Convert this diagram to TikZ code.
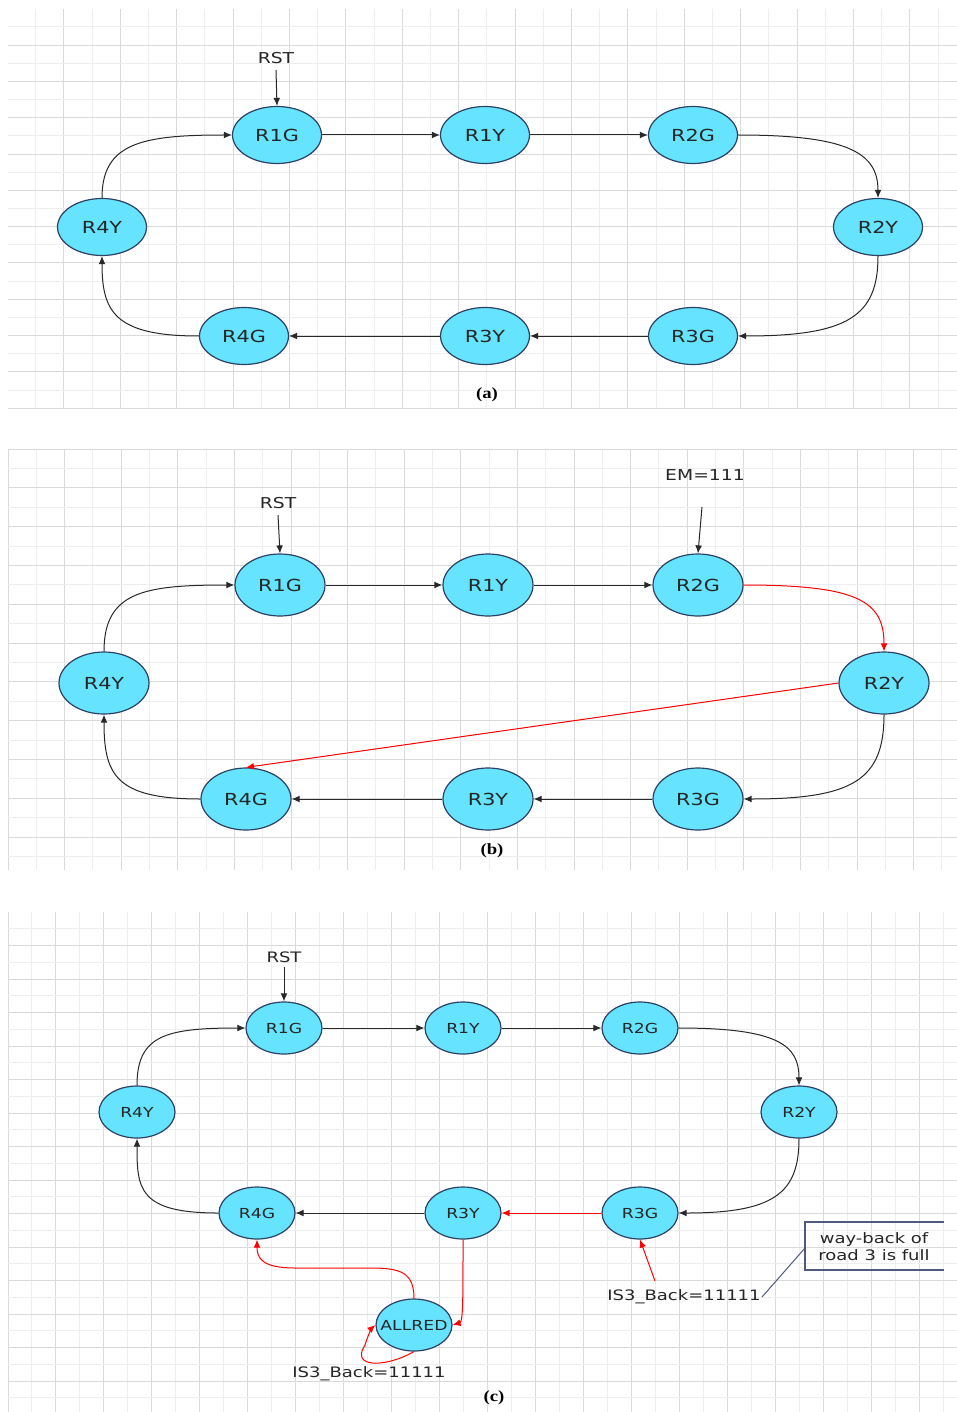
\documentclass[tikz,border=0pt]{standalone}
\usepackage{fontspec}
\newfontfamily\vfont{DejaVu Sans}[FakeStretch=1.25]
\newfontfamily\capfont{Liberation Serif}[FakeStretch=1.2]
\usetikzlibrary{shapes.geometric,arrows.meta}
\definecolor{nodefill}{RGB}{102,227,255}
\definecolor{nodedraw}{RGB}{45,65,100}
\definecolor{gminor}{RGB}{238,238,238}
\definecolor{gmajor}{RGB}{218,218,218}
\definecolor{edgec}{RGB}{40,40,40}
\definecolor{notec}{RGB}{80,90,125}
\begin{document}
\begin{tikzpicture}[x=0.5pt,y=-0.5pt,
  stbase/.style={ellipse, draw=nodedraw, fill=nodefill, line width=0.6pt, inner sep=0pt, text=black!85},
  stA/.style={stbase, minimum width=44.5pt, minimum height=28.5pt, font=\vfont\fontsize{8.3}{10}\selectfont},
  stB/.style={stbase, minimum width=45pt, minimum height=31pt, font=\vfont\fontsize{8.3}{10}\selectfont},
  stC/.style={stbase, minimum width=38pt, minimum height=26pt, font=\vfont\fontsize{6.9}{8}\selectfont},
  lbl/.style={inner sep=3pt, text=black!85, font=\vfont\fontsize{7.5}{9}\selectfont},
  lblC/.style={inner sep=2pt, text=black!85, font=\vfont\fontsize{7.2}{8.5}\selectfont},
  capt/.style={inner sep=0pt, font=\capfont\bfseries\fontsize{7.8}{9}\selectfont},
  arr/.style={-{Latex[length=4pt,width=3.4pt]}, draw=edgec, line width=0.5pt},
  rarr/.style={-{Latex[length=4pt,width=3.4pt]}, draw=red, line width=0.5pt},
  gmin/.style={draw=gminor, line width=0.5pt},
  gmaj/.style={draw=gmajor, line width=0.5pt}
]
\useasboundingbox (0,0) rectangle (957,1412);
\fill[white] (0,0) rectangle (957,1412);

% ---------- grids ----------
\begin{scope}
  \clip (8,9) rectangle (957,408.5);
  \foreach \k in {1,3,...,33} \draw[gmin] ({7.5+28.2*\k},9) -- ({7.5+28.2*\k},409);
  \foreach \k in {0,2,...,34} \draw[gmaj] ({7.5+28.2*\k},9) -- ({7.5+28.2*\k},409);
  \foreach \k in {1,3,...,21} \draw[gmin] (8,{8.85+18.15*\k}) -- (957,{8.85+18.15*\k});
  \foreach \k in {2,4,...,22} \draw[gmaj] (8,{8.85+18.15*\k}) -- (957,{8.85+18.15*\k});
\end{scope}
\begin{scope}
  \clip (7.5,448.5) rectangle (957,870);
  \foreach \k in {1,3,...,33} \draw[gmin] ({8+28.3*\k},449) -- ({8+28.3*\k},870);
  \foreach \k in {0,2,...,34} \draw[gmaj] ({8+28.3*\k},449) -- ({8+28.3*\k},870);
  \foreach \k in {1,3,...,21} \draw[gmin] (8,{449+19.4*\k}) -- (957,{449+19.4*\k});
  \foreach \k in {0,2,...,20} \draw[gmaj] (8,{449+19.4*\k}) -- (957,{449+19.4*\k});
\end{scope}
\begin{scope}
  \clip (7.5,912) rectangle (957,1412);
  \foreach \k in {1,3,...,39} \draw[gmin] ({8+23.98*\k},912) -- ({8+23.98*\k},1412);
  \foreach \k in {0,2,...,40} \draw[gmaj] ({8+23.98*\k},912) -- ({8+23.98*\k},1412);
  \foreach \k in {1,3,...,29} \draw[gmin] (8,{912+16.75*\k}) -- (957,{912+16.75*\k});
  \foreach \k in {2,4,...,30} \draw[gmaj] (8,{912+16.75*\k}) -- (957,{912+16.75*\k});
\end{scope}

% ---------- panel (a) ----------
\node[lbl] (rstA) at (276,58) {RST};
\node[stA] (a1g) at (277,135) {R1G};
\node[stA] (a1y) at (485,135) {R1Y};
\node[stA] (a2g) at (693,135) {R2G};
\node[stA] (a2y) at (878,227) {R2Y};
\node[stA] (a4y) at (102,227) {R4Y};
\node[stA] (a4g) at (244,336) {R4G};
\node[stA] (a3y) at (485,336) {R3Y};
\node[stA] (a3g) at (693,336) {R3G};
\node[capt] (capA) at (487,395) {(a)};

\draw[arr] (rstA.south) -- (a1g.north);
\draw[arr] (a1g) -- (a1y);
\draw[arr] (a1y) -- (a2g);
\draw[arr] (a2g.east) .. controls +(110,0) and +(0,-45) .. (a2y.north);
\draw[arr] (a2y.south) .. controls +(0,60) and +(110,0) .. (a3g.east);
\draw[arr] (a3g) -- (a3y);
\draw[arr] (a3y) -- (a4g);
\draw[arr] (a4g.west) .. controls +(-85,0) and +(0,55) .. (a4y.south);
\draw[arr] (a4y.north) .. controls +(0,-55) and +(-90,0) .. (a1g.west);

% ---------- panel (b) ----------
\node[lbl] (rstB) at (278,503) {RST};
\node[lbl] (emB) at (705,475) {EM=111};
\node[stB] (b1g) at (280,585) {R1G};
\node[stB] (b1y) at (488,585) {R1Y};
\node[stB] (b2g) at (698,585) {R2G};
\node[stB] (b2y) at (884,683) {R2Y};
\node[stB] (b4y) at (104,683) {R4Y};
\node[stB] (b4g) at (246,799) {R4G};
\node[stB] (b3y) at (488,799) {R3Y};
\node[stB] (b3g) at (698,799) {R3G};
\node[capt] (capB) at (492,851) {(b)};

\coordinate (emS) at (702,507);
\draw[arr] (rstB.south) -- (b1g.north);
\draw[arr] (emS) -- (b2g.north);
\draw[arr] (b1g) -- (b1y);
\draw[arr] (b1y) -- (b2g);
\draw[rarr] (b2g.east) .. controls +(115,0) and +(0,-50) .. (b2y.north);
\draw[arr] (b2y.south) .. controls +(0,65) and +(110,0) .. (b3g.east);
\draw[rarr] (b2y.west) -- (b4g.north);
\draw[arr] (b3g) -- (b3y);
\draw[arr] (b3y) -- (b4g);
\draw[arr] (b4g.west) .. controls +(-85,0) and +(0,60) .. (b4y.south);
\draw[arr] (b4y.north) .. controls +(0,-60) and +(-90,0) .. (b1g.west);

% ---------- panel (c) ----------
\node[lblC] (rstC) at (284,957) {RST};
\node[stC] (c1g) at (284,1028) {R1G};
\node[stC] (c1y) at (463,1028) {R1Y};
\node[stC] (c2g) at (640,1028) {R2G};
\node[stC] (c2y) at (799,1112) {R2Y};
\node[stC] (c4y) at (137,1112) {R4Y};
\node[stC] (c4g) at (257,1213) {R4G};
\node[stC] (c3y) at (463,1213) {R3Y};
\node[stC] (c3g) at (640,1213) {R3G};
\node[stC] (car) at (414,1325) {\makebox[0pt]{ALLRED}};
\node[lblC] (is3a) at (369,1374) {IS3\_Back=11111};
\node[lblC] (is3b) at (684,1297) {IS3\_Back=11111};
\node[lblC, align=center, inner sep=0pt] (note) at (874,1247) {\baselineskip=8.5pt way-back of\\road 3 is full};
\node[capt] (capC) at (494,1398) {(c)};

\draw[arr] (rstC.south) -- (c1g.north);
\draw[arr] (c1g) -- (c1y);
\draw[arr] (c1y) -- (c2g);
\draw[arr] (c2g.east) .. controls +(100,0) and +(0,-40) .. (c2y.north);
\draw[arr] (c2y.south) .. controls +(0,55) and +(95,0) .. (c3g.east);
\draw[rarr] (c3g) -- (c3y);
\draw[arr] (c3y) -- (c4g);
\draw[arr] (c4g.west) .. controls +(-80,0) and +(0,50) .. (c4y.south);
\draw[arr] (c4y.north) .. controls +(0,-50) and +(-80,0) .. (c1g.west);
\draw[rarr] (c3y.south) .. controls (463,1300) and (463,1322) .. (car.east);
\draw[rarr] (car.north) .. controls (414,1272) and (400,1268) .. (370,1268)
  -- (295,1268) .. controls (262,1268) and (257,1258) .. (c4g.south);
\draw[rarr] (car.south) .. controls (385,1368) and (350,1368) .. (365,1345)
  .. controls (368,1335) and (372,1328) .. (car.west);
\coordinate (is3tip) at (655,1281);
\draw[rarr] (is3tip) -- (c3g.south);
\coordinate (noteL) at (805,1248);
\draw[notec, line width=0.5pt] (762,1297) -- (noteL);
\draw[notec, line width=0.6pt] (944,1222) -- (805,1222) -- (805,1270) -- (944,1270);
\end{tikzpicture}
\end{document}
